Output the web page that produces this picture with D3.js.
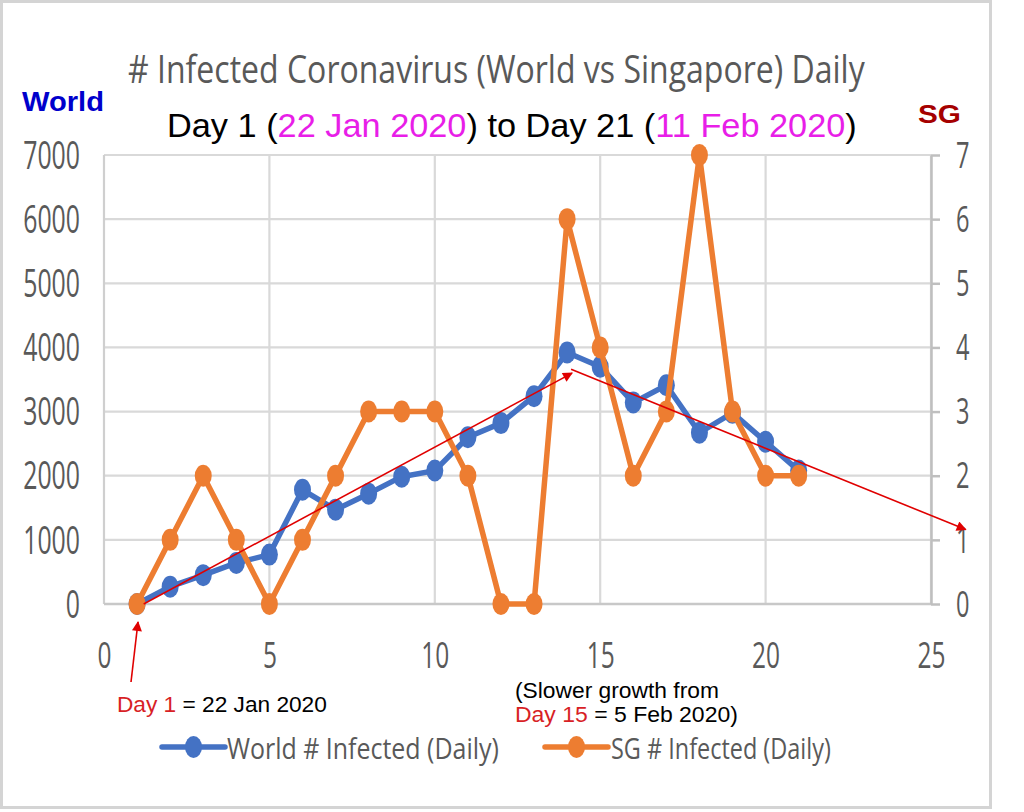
<!DOCTYPE html>
<html>
<head>
<meta charset="utf-8">
<script src="https://cdn.jsdelivr.net/npm/d3@7"></script>
<style>
  html, body { margin: 0; padding: 0; background: #fff; }
  svg { display: block; }
</style>
</head>
<body>
<svg id="chart" width="1024" height="812"></svg>
<script>
// ---------------- data ----------------
const days = [1,2,3,4,5,6,7,8,9,10,11,12,13,14,15,16,17,18,19,20,21];
const worldDaily = [0,270,450,640,770,1780,1470,1720,1985,2080,2600,2820,3240,3920,3700,3140,3410,2670,2980,2530,2080];
const sgDaily = [0,1,2,1,0,1,2,3,3,3,2,0,0,6,4,2,3,7,3,2,2];
const xTicks = [0,5,10,15,20,25];
const worldTicks = [0,1000,2000,3000,4000,5000,6000,7000];
const sgTicks = [0,1,2,3,4,5,6,7];
const seriesNames = ["World # Infected (Daily)", "SG # Infected (Daily)"];
// trend arrows in data space (day, world value)
const trendArrows = [
  { from: [1.2, 0], to: [14.15, 3600] },
  { from: [14.12, 3660], to: [26.05, 1160] }
];

// ---------------- setup ----------------
const svg = d3.select("#chart");
const grey = "#595959";
const blue = "#4472c4", orange = "#ed7d31", red = "#e00000";
const calibri = "'Open Sans', 'Liberation Sans', sans-serif";
const arial = "'Liberation Sans', Arial, sans-serif";
const fmt = d3.format("d");

const x = d3.scaleLinear().domain([0,25]).range([104,931]);
const yL = d3.scaleLinear().domain([0,7000]).range([604,155]);
const yR = d3.scaleLinear().domain([0,7]).range([604,155]);

svg.append("rect").attr("width",1024).attr("height",812).attr("fill","#fff");
svg.append("rect").attr("x",1.5).attr("y",1.5).attr("width",989).attr("height",806)
  .attr("fill","none").attr("stroke","#d4d4d4").attr("stroke-width",3);

const defs = svg.append("defs");
defs.append("marker").attr("id","arr").attr("viewBox","0 0 10 10")
  .attr("refX",9).attr("refY",5).attr("markerWidth",12).attr("markerHeight",10)
  .attr("markerUnits","userSpaceOnUse").attr("orient","auto")
  .append("path").attr("d","M0,0 L10,5 L0,10 Z").attr("fill",red);

// gridlines
const grid = svg.append("g");
grid.selectAll("line.h").data(worldTicks).join("line").attr("class","h")
  .attr("x1",x(0)).attr("x2",x(25)).attr("y1",d=>yL(d)).attr("y2",d=>yL(d))
  .attr("stroke","#d9d9d9").attr("stroke-width",2.2);
grid.selectAll("line.v").data(xTicks).join("line").attr("class","v")
  .attr("x1",d=>x(d)).attr("x2",d=>x(d)).attr("y1",yL(7000)).attr("y2",yL(0))
  .attr("stroke",d=>d===0?"#cfcfcf":"#d9d9d9").attr("stroke-width",2.2);
grid.append("line").attr("x1",x(0)).attr("x2",x(25)).attr("y1",yL(0)).attr("y2",yL(0))
  .attr("stroke","#c8c8c8").attr("stroke-width",2.5);

// left axis
const gL = svg.append("g").attr("transform",`translate(${x(0)},0)`)
  .call(d3.axisLeft(yL).tickValues(worldTicks).tickFormat(fmt).tickSize(0).tickPadding(24));
gL.select(".domain").remove();
gL.selectAll("text").attr("font-family",calibri).attr("font-size",39).attr("fill",grey)
  .attr("dy","0.34em")
  .attr("textLength",d=>fmt(d).length*14.2).attr("lengthAdjust","spacingAndGlyphs");

// right axis
const gR = svg.append("g").attr("transform",`translate(${x(25)},0)`)
  .call(d3.axisRight(yR).tickValues(sgTicks).tickFormat(fmt).tickSize(9).tickSizeOuter(0).tickPadding(16));
gR.select(".domain").attr("stroke","#bfbfbf").attr("stroke-width",2.5);
gR.selectAll(".tick line").attr("stroke","#bfbfbf").attr("stroke-width",2.5);
gR.selectAll("text").attr("font-family",calibri).attr("font-size",36).attr("fill",grey)
  .attr("dy","0.34em")
  .attr("textLength",13.5).attr("lengthAdjust","spacingAndGlyphs");

// bottom axis
const gB = svg.append("g").attr("transform",`translate(0,${yL(0)})`)
  .call(d3.axisBottom(x).tickValues(xTicks).tickFormat(fmt).tickSize(0).tickPadding(0));
gB.select(".domain").remove();
gB.selectAll("text").attr("font-family",calibri).attr("font-size",36).attr("fill",grey)
  .attr("dy",null).attr("y",64)
  .attr("textLength",d=>fmt(d).length*14).attr("lengthAdjust","spacingAndGlyphs");

// series
const worldPts = days.map((d,i)=>({day:d, v:worldDaily[i]}));
const sgPts = days.map((d,i)=>({day:d, v:sgDaily[i]}));

svg.append("path").datum(worldPts)
  .attr("d", d3.line().x(d=>x(d.day)).y(d=>yL(d.v)))
  .attr("fill","none").attr("stroke",blue).attr("stroke-width",5.5)
  .attr("stroke-linejoin","round").attr("stroke-linecap","round");
svg.append("g").selectAll("ellipse").data(worldPts).join("ellipse")
  .attr("cx",d=>x(d.day)).attr("cy",d=>yL(d.v)).attr("rx",8.5).attr("ry",11)
  .attr("fill",blue);

svg.append("path").datum(sgPts)
  .attr("d", d3.line().x(d=>x(d.day)).y(d=>yR(d.v)))
  .attr("fill","none").attr("stroke",orange).attr("stroke-width",5.5)
  .attr("stroke-linejoin","round").attr("stroke-linecap","round");
svg.append("g").selectAll("ellipse").data(sgPts).join("ellipse")
  .attr("cx",d=>x(d.day)).attr("cy",d=>yR(d.v)).attr("rx",8.5).attr("ry",11)
  .attr("fill",orange);

// trend arrows
svg.append("g").selectAll("line").data(trendArrows).join("line")
  .attr("x1",d=>x(d.from[0])).attr("y1",d=>yL(d.from[1]))
  .attr("x2",d=>x(d.to[0])).attr("y2",d=>yL(d.to[1]))
  .attr("stroke",red).attr("stroke-width",1.6).attr("marker-end","url(#arr)");
// day-1 pointer arrow
svg.append("line").attr("x1",131).attr("y1",682).attr("x2",138).attr("y2",622)
  .attr("stroke",red).attr("stroke-width",1.6).attr("marker-end","url(#arr)");

// ---------------- text helpers ----------------
function fitText(px, py, w, size, family, weight, parts) {
  const t = svg.append("text").attr("x",0).attr("y",0)
    .attr("font-family",family).attr("font-size",size).attr("font-weight",weight||"normal");
  parts.forEach(p => t.append("tspan").attr("fill",p[1]).text(p[0]));
  const nat = t.node().getComputedTextLength();
  const s = w / nat;
  t.attr("transform",`translate(${px},${py}) scale(${s},1)`);
  return t;
}

// titles
fitText(128, 83, 737, 39, calibri, "normal",
  [["# Infected Coronavirus (World vs Singapore) Daily", grey]]);
const mag = "#e81ee8";
fitText(167, 137, 690, 33, arial, "normal",
  [["Day 1 (", "#000"],["22 Jan 2020", mag],[") to Day 21 (", "#000"],["11 Feb 2020", mag],[")", "#000"]]);
fitText(22, 111, 82, 28, arial, "bold", [["World", "#0000cc"]]);
fitText(918, 123, 43, 26, arial, "bold", [["SG", "#a50000"]]);

// annotations
const annRed = "#d81f26";
fitText(117, 712, 210, 22, arial, "normal", [["Day 1", annRed],[" = 22 Jan 2020", "#000"]]);
fitText(515, 698, 204, 22, arial, "normal", [["(Slower growth from", "#000"]]);
fitText(515, 722, 223, 22, arial, "normal", [["Day 15", annRed],[" = 5 Feb 2020)", "#000"]]);

// legend
const legendItems = [
  { name: seriesNames[0], color: blue, x0: 162, x1: 225, tx: 227, tw: 272 },
  { name: seriesNames[1], color: orange, x0: 545, x1: 608, tx: 611, tw: 220 }
];
const lg = svg.append("g");
legendItems.forEach(it => {
  lg.append("line").attr("x1",it.x0).attr("x2",it.x1).attr("y1",747).attr("y2",747)
    .attr("stroke",it.color).attr("stroke-width",5.5).attr("stroke-linecap","round");
  lg.append("ellipse").attr("cx",(it.x0+it.x1)/2).attr("cy",747).attr("rx",8.5).attr("ry",11).attr("fill",it.color);
  fitText(it.tx, 759, it.tw, 30, calibri, "normal", [[it.name, grey]]);
});
</script>
</body>
</html>
